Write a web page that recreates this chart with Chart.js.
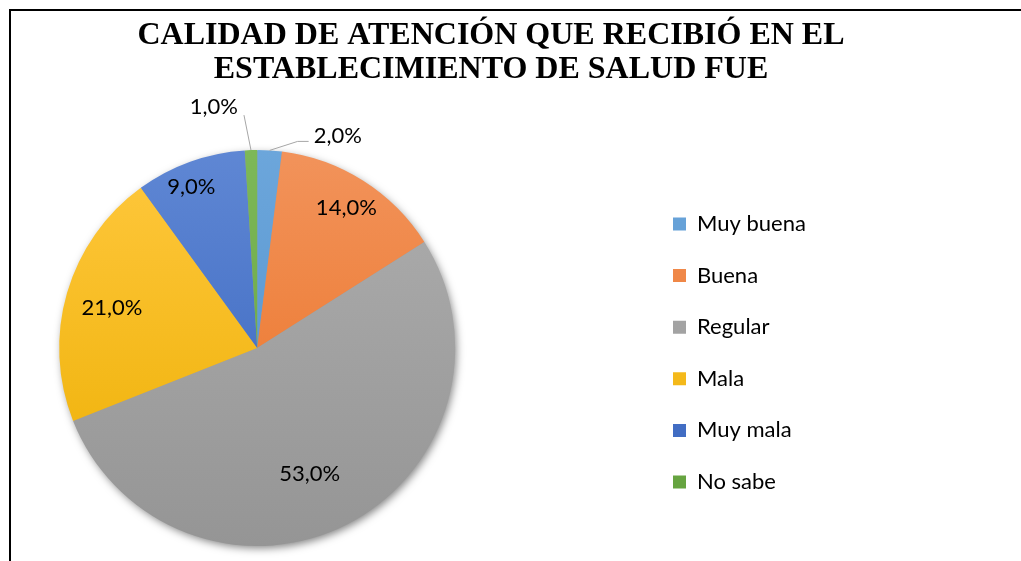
<!DOCTYPE html>
<html>
<head>
<meta charset="utf-8">
<script src="https://cdn.jsdelivr.net/npm/chart.js@4/dist/chart.umd.min.js"></script>
<style>
  html, body { margin: 0; padding: 0; background: #fff; overflow: hidden; }
  body { width: 1021px; height: 561px; position: relative; }
  /* marco del grafico: solo lineas izquierda y superior */
  #marco { position: absolute; left: 9px; top: 9px; width: 1012px; height: 552px;
           border-left: 2px solid #000; border-top: 2px solid #000; pointer-events: none; z-index: 2; }
  /* el lienzo empieza fuera de la vista para que la torta quede centrada a la izquierda */
  #caja { position: absolute; left: -129px; top: 0; width: 1240px; height: 561px; }
</style>
</head>
<body>
<div id="marco"></div>
<div id="caja"><canvas id="grafico"></canvas></div>
<script>
// Datos
const titulo = ['CALIDAD DE ATENCIÓN QUE RECIBIÓ EN EL', 'ESTABLECIMIENTO DE SALUD FUE'];
const categorias = ['Muy buena', 'Buena', 'Regular', 'Mala', 'Muy mala', 'No sabe'];
const porcentajes = [2, 14, 53, 21, 9, 1];

// Colores (degradado de arriba a abajo)
const coloresArriba = ['#6CA6DB', '#F2935B', '#AEAEAE', '#FFC83E', '#5F87D4', '#7DB858'];
const coloresAbajo = ['#4E8FCB', '#EA6F1F', '#959595', '#ECAE00', '#3562BC', '#62A03C'];

// Posicion de las etiquetas: fraccion del radio y giro en grados; null = fuera con linea guia
const radioEtiqueta = [null, 0.84, 0.69, 0.76, 0.88, null];
const giroEtiqueta = [0, 0, 4.4, -0.9, -2.4, 0];
const guias = {
  0: { dx: 28, dy: -9, tramo: 11, tx: 5, ty: -5, alinear: 'left' },
  5: { dx: -7, dy: -35, tramo: 0, tx: -6, ty: -8, alinear: 'right' }
};

const fuente = 'Lato';
const tamLeyenda = 22;
const padLeyenda = 29.6;

// ancho de la leyenda para calcular el espacio vacio a su derecha
const medir = document.createElement('canvas').getContext('2d');
medir.font = tamLeyenda + 'px ' + fuente;
const textoMax = Math.max(...categorias.map(c => medir.measureText(c).width));
const anchoLeyenda = padLeyenda + 13 + tamLeyenda / 2 + textoMax + 10;
const espacioDerecha = 1240 - (643.4 + 129) - anchoLeyenda;

const formato = v => v.toFixed(1).replace('.', ',') + '%';

const sombra = {
  id: 'sombra',
  beforeDatasetsDraw(chart) {
    const arc = chart.getDatasetMeta(0).data[0];
    if (!arc) return;
    const { x, y, outerRadius } = arc.getProps(['x', 'y', 'outerRadius'], true);
    const ctx = chart.ctx;
    ctx.save();
    ctx.shadowColor = 'rgba(0,0,0,0.5)';
    ctx.shadowBlur = 8;
    ctx.shadowOffsetX = 2;
    ctx.shadowOffsetY = 3;
    ctx.fillStyle = '#999';
    ctx.beginPath();
    ctx.arc(x, y, outerRadius - 1, 0, Math.PI * 2);
    ctx.fill();
    ctx.restore();
  }
};

const etiquetas = {
  id: 'etiquetas',
  afterDatasetsDraw(chart) {
    const ctx = chart.ctx;
    const meta = chart.getDatasetMeta(0);
    ctx.save();
    ctx.font = tamLeyenda + 'px ' + fuente;
    ctx.fillStyle = '#000';
    ctx.textBaseline = 'middle';
    meta.data.forEach((arc, i) => {
      const { x, y, startAngle, endAngle, outerRadius } =
        arc.getProps(['x', 'y', 'startAngle', 'endAngle', 'outerRadius'], true);
      const medio = (startAngle + endAngle) / 2;
      const texto = formato(porcentajes[i]);
      if (radioEtiqueta[i] !== null) {
        const r = outerRadius * radioEtiqueta[i];
        const a = medio + giroEtiqueta[i] * Math.PI / 180;
        ctx.textAlign = 'center';
        ctx.fillText(texto, x + Math.cos(a) * r, y + Math.sin(a) * r);
      } else {
        const g = guias[i];
        const bx = x + Math.cos(medio) * outerRadius;
        const by = y + Math.sin(medio) * outerRadius;
        const cx = bx + g.dx, cy = by + g.dy;
        const ex = cx + g.tramo;
        ctx.strokeStyle = '#a6a6a6';
        ctx.lineWidth = 1;
        ctx.beginPath();
        ctx.moveTo(bx, by);
        ctx.lineTo(cx, cy);
        ctx.lineTo(ex, cy);
        ctx.stroke();
        ctx.textAlign = g.alinear;
        ctx.fillText(texto, ex + g.tx, cy + g.ty);
      }
    });
    ctx.restore();
  }
};

new Chart(document.getElementById('grafico'), {
  type: 'pie',
  data: {
    labels: categorias,
    datasets: [{
      data: porcentajes,
      backgroundColor: (c) => {
        const area = c.chart.chartArea;
        if (!area) return coloresArriba[c.dataIndex];
        const g = c.chart.ctx.createLinearGradient(0, area.top, 0, area.bottom);
        g.addColorStop(0, coloresArriba[c.dataIndex]);
        g.addColorStop(1, coloresAbajo[c.dataIndex]);
        return g;
      },
      borderWidth: 0
    }]
  },
  options: {
    responsive: true,
    maintainAspectRatio: false,
    animation: false,
    events: [],
    layout: { padding: { left: 0, right: 0, top: 0, bottom: 15 } },
    plugins: {
      title: {
        display: true,
        text: titulo,
        color: '#000',
        font: { family: 'Liberation Serif', size: 32, weight: 'bold', lineHeight: 1.0625 },
        padding: { top: 19, bottom: 63 }
      },
      // caja vacia a la derecha de la leyenda, solo para reservar espacio
      subtitle: {
        display: true,
        position: 'right',
        text: '',
        font: { size: 10, lineHeight: 0 },
        padding: { top: espacioDerecha, bottom: 0 }
      },
      legend: {
        position: 'right',
        fullSize: false,
        // titulo vacio de 10px para bajar un poco los elementos
        title: { display: true, text: '', font: { size: 10, lineHeight: 0 }, padding: { top: 10, bottom: 0 } },
        labels: {
          boxWidth: 13,
          boxHeight: 13,
          padding: padLeyenda,
          color: '#000',
          font: { family: fuente, size: tamLeyenda }
        }
      },
      tooltip: { enabled: false }
    }
  },
  plugins: [sombra, etiquetas]
});
</script>
</body>
</html>
